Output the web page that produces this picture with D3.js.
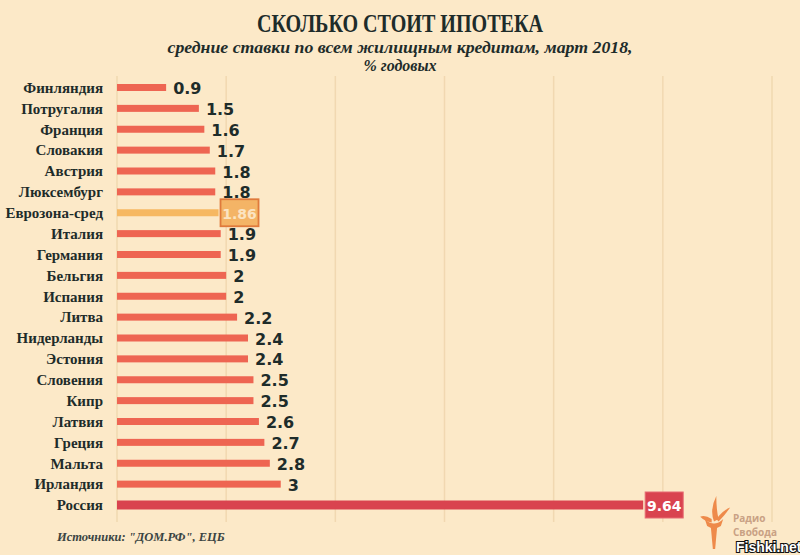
<!DOCTYPE html>
<html><head><meta charset="utf-8">
<script src="https://cdn.jsdelivr.net/npm/d3@7"></script>
<style>
html,body{margin:0;padding:0;background:#fce9c8;}
svg{display:block;}
</style></head>
<body>
<svg id="chart" width="800" height="555"></svg>
<script>
const countries = ["Финляндия","Потругалия","Франция","Словакия","Австрия","Люксембург","Еврозона-сред","Италия","Германия","Бельгия","Испания","Литва","Нидерланды","Эстония","Словения","Кипр","Латвия","Греция","Мальта","Ирландия","Россия"];
const values = [0.9,1.5,1.6,1.7,1.8,1.8,1.86,1.9,1.9,2,2,2.2,2.4,2.4,2.5,2.5,2.6,2.7,2.8,3,9.64];
const valueLabels = ["0.9","1.5","1.6","1.7","1.8","1.8","1.86","1.9","1.9","2","2","2.2","2.4","2.4","2.5","2.5","2.6","2.7","2.8","3","9.64"];
const gridTicks = [0,2,4,6,8,10,12];
const title = "СКОЛЬКО СТОИТ ИПОТЕКА";
const subtitle1 = "средние ставки по всем жилищным кредитам, март 2018,";
const subtitle2 = "% годовых";
const source = "Источники: \"ДОМ.РФ\", ЕЦБ";

const data = countries.map((c,i)=>({country:c, value:values[i], label:valueLabels[i]}));
const svg = d3.select("#chart");
const W = 800, H = 555;
svg.append("rect").attr("width",W).attr("height",H).attr("fill","#fce9c8");

const x = d3.scaleLinear().domain([0,12]).range([117,772]);
const y = d3.scalePoint().domain(countries).range([87.5,505]);

// gridlines
svg.append("g").selectAll("line").data(gridTicks).join("line")
  .attr("x1",d=>x(d)).attr("x2",d=>x(d))
  .attr("y1",76).attr("y2",522)
  .attr("stroke","#f1d8b1").attr("stroke-width",1.5);

const dark = "#1e2c2a";
// titles
svg.append("text").attr("x",400).attr("y",32).attr("text-anchor","middle")
  .attr("font-family","Liberation Serif").attr("font-weight","bold").attr("font-size",26)
  .attr("fill",dark).attr("textLength",286).attr("lengthAdjust","spacingAndGlyphs").text(title);
svg.append("text").attr("x",400).attr("y",53).attr("text-anchor","middle")
  .attr("font-family","Liberation Serif").attr("font-weight","bold").attr("font-style","italic").attr("font-size",16)
  .attr("fill",dark).attr("textLength",465).attr("lengthAdjust","spacingAndGlyphs").text(subtitle1);
svg.append("text").attr("x",400).attr("y",71).attr("text-anchor","middle")
  .attr("font-family","Liberation Serif").attr("font-weight","bold").attr("font-style","italic").attr("font-size",16)
  .attr("fill",dark).text(subtitle2);

// country labels
svg.append("g").selectAll("text").data(data).join("text")
  .attr("x",103).attr("y",d=>y(d.country)).attr("dy","0.35em").attr("text-anchor","end")
  .attr("font-family","Liberation Serif").attr("font-weight","bold").attr("font-size",15)
  .attr("fill",dark).text(d=>d.country);

const colorOf = d => d.country==="Россия" ? "#d9434f" : (d.country==="Еврозона-сред" ? "#f6b862" : "#ee6552");
// bars
svg.append("g").selectAll("rect").data(data).join("rect")
  .attr("x",x(0)).attr("y",d=>y(d.country)-(d.country==="Россия"?4.5:3.5))
  .attr("width",d=>x(d.value)-x(0)).attr("height",d=>d.country==="Россия"?9:7)
  .attr("fill",colorOf);

// value labels
const special = new Set(["Россия","Еврозона-сред"]);
svg.append("g").selectAll("text").data(data.filter(d=>!special.has(d.country))).join("text")
  .attr("x",d=>x(d.value)+7).attr("y",d=>y(d.country)+1).attr("dy","0.35em")
  .attr("font-family","DejaVu Sans").attr("font-weight","bold").attr("font-size",16)
  .attr("fill",dark).text(d=>d.label);

// boxed labels
const ez = data.find(d=>d.country==="Еврозона-сред");
svg.append("rect").attr("x",x(ez.value)+2).attr("y",y(ez.country)-13.5).attr("width",38).attr("height",27)
  .attr("fill","#f4b466").attr("stroke","#df7a3c").attr("stroke-width",1.8);
svg.append("text").attr("x",x(ez.value)+21).attr("y",y(ez.country)+1).attr("dy","0.35em").attr("text-anchor","middle")
  .attr("font-family","DejaVu Sans").attr("font-weight","bold").attr("font-size",14)
  .attr("fill","#fbe4c2").text(ez.label);
const ru = data.find(d=>d.country==="Россия");
svg.append("rect").attr("x",x(ru.value)+2).attr("y",y(ru.country)-13).attr("width",38).attr("height",26)
  .attr("fill","#d9434f").attr("stroke","#e66a72").attr("stroke-width",1);
svg.append("text").attr("x",x(ru.value)+21).attr("y",y(ru.country)+1).attr("dy","0.35em").attr("text-anchor","middle")
  .attr("font-family","DejaVu Sans").attr("font-weight","bold").attr("font-size",14)
  .attr("fill","#ffffff").text(ru.label);

// source
svg.append("text").attr("x",57).attr("y",541)
  .attr("font-family","Liberation Serif").attr("font-weight","bold").attr("font-style","italic").attr("font-size",12.5)
  .attr("fill","#3a4442").text(source);

// Radio Svoboda logo
const logo = svg.append("g").attr("transform","translate(714,526) scale(1.15)").attr("fill","#ee8a4a");
logo.append("path").attr("d","M-3,-2 L3,-2 L1,20 L-1,20 Z");
logo.append("path").attr("d","M-8,-6 Q0,2 8,-6 L6,0 Q0,4 -6,0 Z");
logo.append("path").attr("d","M0,-4 Q-4,-14 2,-26 Q2,-14 4,-6 Z");
logo.append("path").attr("d","M2,-6 Q8,-14 14,-16 Q10,-10 4,-4 Z");
logo.append("path").attr("d","M-2,-6 Q-8,-10 -12,-8 Q-8,-4 -2,-3 Z");
svg.append("text").attr("x",733).attr("y",522).attr("font-family","Open Sans").attr("font-weight","bold")
  .attr("font-size",10).attr("fill","#c9a184").text("Радио");
svg.append("text").attr("x",733).attr("y",536).attr("font-family","Open Sans").attr("font-weight","bold")
  .attr("font-size",10).attr("fill","#c9a184").text("Свобода");
// watermark
svg.append("text").attr("x",736).attr("y",552).attr("font-family","Liberation Sans").attr("font-weight","bold")
  .attr("font-size",14).attr("fill","#ffffff").attr("stroke","#111").attr("stroke-width",2.2)
  .attr("paint-order","stroke").text("Fishki.net");
</script>
</body></html>
